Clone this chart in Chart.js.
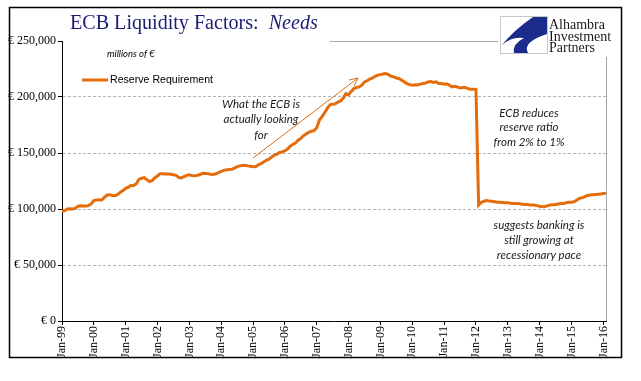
<!DOCTYPE html>
<html>
<head>
<meta charset="utf-8">
<script src="https://cdn.jsdelivr.net/npm/chart.js@4.4.1/dist/chart.umd.min.js"></script>
<style>
html, body { margin: 0; padding: 0; background: #fff; }
</style>
</head>
<body>
<canvas id="myChart" width="641" height="381"></canvas>
<script>
var monthNames = ['Jan', 'Feb', 'Mar', 'Apr', 'May', 'Jun', 'Jul', 'Aug', 'Sep', 'Oct', 'Nov', 'Dec'];
var yearCodes = ['99', '00', '01', '02', '03', '04', '05', '06', '07', '08', '09', '10', '11', '12', '13', '14', '15', '16'];
var yTicks = [0, 50000, 100000, 150000, 200000, 250000];

// Reserve requirement, millions of euro, monthly Jan-99 .. Feb-16
var reserveReq = [
  98000, 98500, 100000, 100200, 100000, 100500, 102500, 102800, 102600, 102700, 103000, 104500,
  107500, 108000, 108200, 108000, 110500, 112500, 112800, 112000, 111800, 113000, 115000, 116500,
  118500, 119500, 121000, 121000, 122500, 126500, 127500, 128000, 126000, 124500, 125500, 128000,
  129500, 131500, 131500, 131200, 131300, 131000, 130500, 130000, 128000, 127800, 129000, 130000,
  130500, 129800, 129600, 130000, 130800, 132000, 131800, 131500, 131000, 130800, 131500, 132500,
  133500, 134500, 135000, 135200, 135500, 136500, 137800, 138500, 138800, 139000, 138500, 138200,
  137800, 138000, 139500, 140500, 142000, 143500, 144500, 146500, 148000, 149000, 150500, 151000,
  152000, 153500, 156000, 157500, 159000, 161500, 163000, 165500, 167000, 168500, 169500, 170000,
  172500, 179500, 182500, 186000, 190000, 193000, 193500, 194000, 195500, 196500, 199000, 203000,
  202000, 205000, 207500, 208500, 209000, 210500, 213500, 214500, 216000, 217000, 218500, 219500,
  220000, 220500, 221000, 220000, 218500, 218000, 217000, 216500, 215000, 213500, 212000, 211000,
  210500, 211000, 210800, 211500, 212000, 212500, 213500, 213800, 213000, 213500, 212000, 212000,
  211500, 211800, 210500, 209000, 209500, 209000, 208000, 208500, 208500, 207500, 207000, 207000,
  206800, 103500, 106000, 107000, 107500, 107200, 107000, 106500, 106000, 106000, 105800, 105600,
  105500, 105200, 105000, 104800, 104800, 104500, 104000, 104200, 103800, 103600, 103500, 103000,
  102500, 102000, 102300, 103000, 103500, 103800, 104000, 104500, 105000, 105000, 105500, 106000,
  106000, 106500, 108000, 109500, 110000, 111000, 112000, 112500, 112800, 113000, 113200, 113400,
  113800, 114000
];

var labels = reserveReq.map(function (v, i) {
  return monthNames[i % 12] + '-' + yearCodes[Math.floor(i / 12)];
});

var orange = '#E46C0A';

function drawLines(ctx, lines, cx, y0, step) {
  lines.forEach(function (t, i) { ctx.fillText(t, cx, y0 + i * step); });
}

var decorations = {
  id: 'decorations',
  beforeDatasetsDraw: function (chart) {
    var ctx = chart.ctx, a = chart.chartArea;
    ctx.save();
    ctx.strokeStyle = '#A6A6A6';
    ctx.lineWidth = 1;
    ctx.beginPath();
    ctx.moveTo(330, a.top + 0.5);
    ctx.lineTo(498, a.top + 0.5);
    ctx.moveTo(a.right + 0.5, 57);
    ctx.lineTo(a.right + 0.5, a.bottom);
    ctx.stroke();
    ctx.restore();
  },
  afterDraw: function (chart) {
    var ctx = chart.ctx;
    ctx.save();

    // outer frame
    ctx.strokeStyle = '#000';
    ctx.lineWidth = 1.5;
    ctx.strokeRect(9.5, 7.5, 612, 350);

    // title, sized to the reference width
    var part1 = 'ECB Liquidity Factors:  ';
    ctx.font = '21px "Liberation Serif"';
    var wa = ctx.measureText(part1).width;
    ctx.font = 'italic 21px "Liberation Serif"';
    var wb = ctx.measureText('Needs').width;
    var size = 21 * 248 / (wa + wb);
    ctx.fillStyle = '#1B1B72';
    ctx.textBaseline = 'alphabetic';
    ctx.textAlign = 'left';
    ctx.font = size + 'px "Liberation Serif"';
    ctx.fillText(part1, 70, 29);
    var w1 = ctx.measureText(part1).width;
    ctx.font = 'italic ' + size + 'px "Liberation Serif"';
    ctx.fillText('Needs', 70 + w1, 29);

    // logo
    ctx.strokeStyle = '#C8C8C8';
    ctx.lineWidth = 1;
    ctx.strokeRect(500.5, 16.5, 47, 37);
    ctx.fillStyle = '#1C2C8C';
    ctx.beginPath();
    ctx.moveTo(547, 17);
    ctx.lineTo(533, 17);
    ctx.quadraticCurveTo(514, 30, 502, 45);
    ctx.quadraticCurveTo(512, 36, 524, 38);
    ctx.quadraticCurveTo(512, 44, 514, 53);
    ctx.lineTo(528, 53);
    ctx.quadraticCurveTo(522, 42, 547, 34);
    ctx.closePath();
    ctx.fill();
    ctx.fillStyle = '#1a1a1a';
    ctx.font = '14px "Liberation Serif"';
    ctx.fillText('Alhambra', 549, 29);
    ctx.fillText('Investment', 549, 41);
    ctx.fillText('Partners', 549, 52);

    // units + legend
    ctx.fillStyle = '#000';
    ctx.font = 'italic 9.5px Lato';
    ctx.textBaseline = 'middle';
    ctx.fillText('millions of \u20AC', 107, 54);
    ctx.strokeStyle = orange;
    ctx.lineWidth = 3;
    ctx.beginPath();
    ctx.moveTo(82, 80);
    ctx.lineTo(108, 80);
    ctx.stroke();
    ctx.font = '10.6px "Liberation Sans"';
    ctx.fillText('Reserve Requirement', 110, 80);

    // annotations
    ctx.fillStyle = '#1a1a1a';
    ctx.textAlign = 'center';
    ctx.font = 'italic 11.5px Lato';
    drawLines(ctx, ['What the ECB is', 'actually looking', 'for'], 261, 104, 15.5);
    drawLines(ctx, ['ECB reduces', 'reserve ratio', 'from 2% to 1%'], 529, 113, 14.5);
    drawLines(ctx, ['suggests banking is', 'still growing at', 'recessionary pace'], 539, 225, 15);

    // arrow
    ctx.strokeStyle = orange;
    ctx.lineWidth = 1;
    ctx.beginPath();
    ctx.moveTo(253, 158);
    ctx.lineTo(358, 78);
    ctx.moveTo(358, 78);
    ctx.lineTo(349, 80);
    ctx.moveTo(358, 78);
    ctx.lineTo(354, 86);
    ctx.stroke();

    ctx.restore();
  }
};

var config = {
  type: 'line',
  data: {
    labels: labels,
    datasets: [{
      label: 'Reserve Requirement',
      data: reserveReq,
      borderColor: orange,
      borderWidth: 3,
      pointRadius: 0,
      tension: 0,
      fill: false
    }]
  },
  options: {
    responsive: false,
    animation: false,
    devicePixelRatio: 1,
    layout: { padding: { left: 0, right: 35, top: 41, bottom: 0 } },
    plugins: {
      legend: { display: false },
      title: { display: false },
      tooltip: { enabled: false }
    },
    scales: {
      x: {
        type: 'category',
        afterFit: function (scale) { scale.height = 60; },
        grid: {
          display: true,
          drawOnChartArea: false,
          tickLength: 4,
          tickColor: function (c) {
            return c.index % 12 === 0 ? '#000' : 'rgba(0,0,0,0)';
          }
        },
        border: { color: '#000', width: 1 },
        ticks: {
          autoSkip: false,
          minRotation: 90,
          maxRotation: 90,
          padding: 1,
          color: '#000',
          font: { family: '"Liberation Serif"', size: 12 },
          callback: function (val, i) {
            return i % 12 === 0 ? labels[i] : '';
          }
        }
      },
      y: {
        min: 0,
        max: 250000,
        afterFit: function (scale) { scale.width = 62; },
        afterBuildTicks: function (scale) {
          scale.ticks = yTicks.map(function (v) { return { value: v }; });
        },
        grid: {
          color: function (c) {
            return (c.tick && (c.tick.value === 0 || c.tick.value === 250000)) ? 'rgba(0,0,0,0)' : '#B4B4B4';
          },
          tickLength: 4,
          tickColor: '#000'
        },
        border: { color: '#000', width: 1, dash: [3, 2] },
        ticks: {
          padding: 2,
          color: '#000',
          font: { family: '"Liberation Serif"', size: 12 },
          callback: function (v) {
            return '\u20AC ' + v.toLocaleString('en-US');
          }
        }
      }
    }
  },
  plugins: [decorations]
};

var chart = new Chart(document.getElementById('myChart').getContext('2d'), config);
</script>
</body>
</html>
